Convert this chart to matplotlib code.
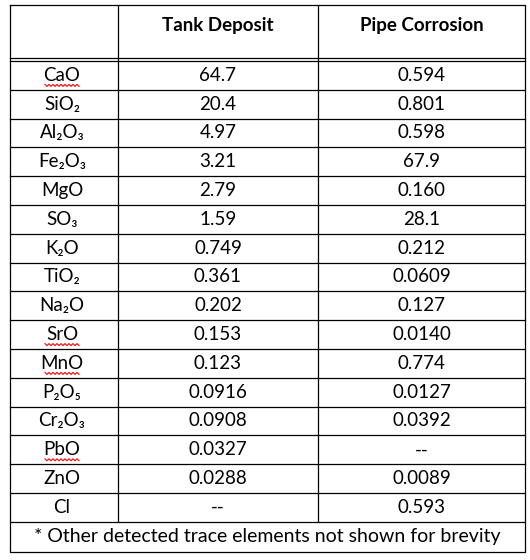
import matplotlib
matplotlib.use("Agg")
import matplotlib.pyplot as plt
import numpy as np

header = ["", "Tank Deposit", "Pipe Corrosion"]
compounds = ["CaO", "SiO₂", "Al₂O₃", "Fe₂O₃", "MgO", "SO₃", "K₂O", "TiO₂", "Na₂O",
             "SrO", "MnO", "P₂O₅", "Cr₂O₃", "PbO", "ZnO", "Cl"]
tank = ["64.7", "20.4", "4.97", "3.21", "2.79", "1.59", "0.749", "0.361", "0.202",
        "0.153", "0.123", "0.0916", "0.0908", "0.0327", "0.0288", "--"]
pipe = ["0.594", "0.801", "0.598", "67.9", "0.160", "28.1", "0.212", "0.0609", "0.127",
        "0.0140", "0.774", "0.0127", "0.0392", "--", "0.0089", "0.593"]
squiggly = ["CaO", "SrO", "MnO", "PbO"]
footnote = "* Other detected trace elements not shown for brevity"

W, H = 530, 560
fig = plt.figure(figsize=(W/100, H/100), dpi=100)
ax = fig.add_axes([0, 0, 1, 1])
ax.set_xlim(0, W); ax.set_ylim(H, 0); ax.axis("off")
fam = ["Lato", "DejaVu Sans"]

x0, x1, x2, x3 = 10, 118, 318, 525
ytop, yhead = 5, 58
rh = 28.8
ydata0 = 61
ybottom_data = ydata0 + rh*len(compounds)
yend = ybottom_data + 30
lw = 0.9
kw = dict(color="black", lw=lw)
ax.plot([x0, x3, x3, x0, x0], [ytop, ytop, yend, yend, ytop], **kw)
ax.plot([x0, x3], [yhead, yhead], **kw)
ax.plot([x0, x3], [yhead+3, yhead+3], **kw)
for i in range(1, len(compounds)+1):
    y = ydata0 + rh*i
    ax.plot([x0, x3], [y, y], **kw)
for x in (x1, x2):
    ax.plot([x, x], [ytop, ybottom_data], **kw)

fs = 13.5
ax.text((x1+x2)/2, 26, header[1], ha="center", va="center", fontsize=fs, fontweight="bold", family=fam)
ax.text((x2+x3)/2, 26, header[2], ha="center", va="center", fontsize=fs, fontweight="bold", family=fam)
for i, (c, t, p) in enumerate(zip(compounds, tank, pipe)):
    yc = ydata0 + rh*(i+0.5)
    ax.text(62, yc, c, ha="center", va="center", fontsize=fs, family=fam)
    ax.text((x1+x2)/2, yc, t, ha="center", va="center", fontsize=fs, family=fam)
    ax.text((x2+x3)/2, yc, p, ha="center", va="center", fontsize=fs, family=fam)
    if c in squiggly:
        xs = np.arange(45, 80, 2.0)
        ys = yc + 9 + np.where(np.arange(len(xs)) % 2 == 0, 0, 2)
        ax.plot(xs, ys, color="red", lw=0.8)
ax.text((x0+x3)/2, ybottom_data+15, footnote, ha="center", va="center", fontsize=14, family=fam)
fig.savefig("out.png", dpi=100, facecolor="white")
